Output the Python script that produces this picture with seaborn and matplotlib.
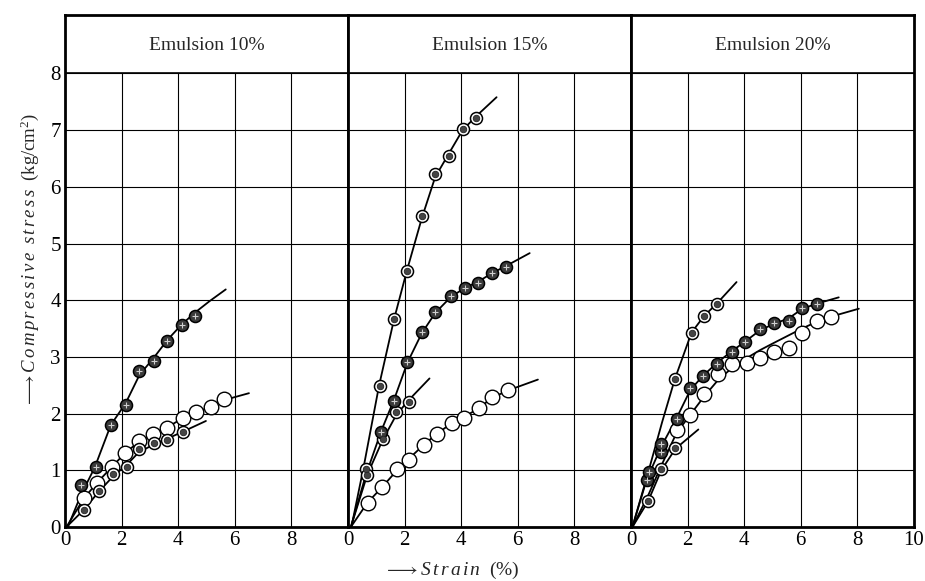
import matplotlib
matplotlib.use("Agg")
import matplotlib.pyplot as plt
import seaborn as sns
import pandas as pd

# ---------------- data ----------------
panel_titles = ["Emulsion 10%", "Emulsion 15%", "Emulsion 20%"]
x_ticks_left = [0, 2, 4, 6, 8]
x_ticks_last = [0, 2, 4, 6, 8, 10]
y_ticks = [0, 1, 2, 3, 4, 5, 6, 7, 8]

# Emulsion 10%
e10_dot_x = [0.55, 1.08, 1.62, 2.14, 2.63, 3.16, 3.62, 4.12, 4.59]
e10_dot_y = [0.74, 1.05, 1.80, 2.16, 2.75, 2.93, 3.28, 3.56, 3.73]
e10_open_x = [0.66, 1.13, 1.66, 2.13, 2.61, 3.12, 3.62, 4.16, 4.62, 5.16, 5.63]
e10_open_y = [0.52, 0.77, 1.06, 1.31, 1.51, 1.64, 1.74, 1.93, 2.02, 2.11, 2.25]
e10_ring_x = [0.66, 1.19, 1.71, 2.19, 2.61, 3.16, 3.62, 4.16]
e10_ring_y = [0.30, 0.63, 0.93, 1.05, 1.37, 1.49, 1.54, 1.68]

e10_dot_cx = [0.1, 0.55, 1.05, 1.62, 2.14, 2.63, 3.16, 3.62, 4.12, 4.59, 5.10, 5.68]
e10_dot_cy = [0.0, 0.55, 1.05, 1.80, 2.18, 2.68, 3.00, 3.30, 3.57, 3.78, 3.98, 4.19]
e10_open_cx = [0.05, 0.66, 1.13, 1.66, 2.13, 2.61, 3.12, 3.62, 4.16, 4.62, 5.16, 5.63, 6.50]
e10_open_cy = [0.0, 0.50, 0.78, 1.06, 1.31, 1.50, 1.64, 1.76, 1.92, 2.02, 2.12, 2.24, 2.36]
e10_ring_cx = [0.05, 0.66, 1.19, 1.71, 2.19, 2.61, 3.16, 3.62, 4.16, 4.98]
e10_ring_cy = [0.0, 0.30, 0.62, 0.90, 1.10, 1.32, 1.46, 1.56, 1.68, 1.87]

# Emulsion 15%
e15_steep_x = [0.64, 1.12, 1.63, 2.08, 2.61, 3.08, 3.58, 4.05, 4.54]
e15_steep_y = [1.03, 2.49, 3.67, 4.52, 5.49, 6.23, 6.55, 7.02, 7.21]
e15_dot_x = [1.18, 1.63, 2.10, 2.61, 3.09, 3.64, 4.14, 4.59, 5.10, 5.57]
e15_dot_y = [1.68, 2.22, 2.91, 3.44, 3.79, 4.08, 4.22, 4.31, 4.48, 4.58]
e15_ring_x = [0.68, 1.22, 1.71, 2.15]
e15_ring_y = [0.92, 1.56, 2.03, 2.21]
e15_open_x = [0.69, 1.20, 1.73, 2.14, 2.68, 3.13, 3.66, 4.11, 4.63, 5.10, 5.66]
e15_open_y = [0.43, 0.70, 1.02, 1.19, 1.44, 1.64, 1.84, 1.93, 2.09, 2.29, 2.41]

e15_steep_cx = [0.12, 0.55, 1.10, 1.63, 2.08, 2.61, 3.08, 3.58, 4.05, 4.54, 5.25]
e15_steep_cy = [0.0, 1.05, 2.50, 3.67, 4.52, 5.45, 6.17, 6.60, 7.00, 7.25, 7.58]
e15_dot_cx = [0.1, 0.62, 1.18, 1.63, 2.10, 2.61, 3.09, 3.64, 4.14, 4.61, 5.10, 5.57, 6.42]
e15_dot_cy = [0.0, 0.90, 1.70, 2.25, 2.90, 3.42, 3.78, 4.06, 4.22, 4.33, 4.48, 4.60, 4.83]
e15_ring_cx = [0.1, 0.68, 1.22, 1.71, 2.15, 2.88]
e15_ring_cy = [0.0, 0.92, 1.53, 1.98, 2.24, 2.62]
e15_open_cx = [0.1, 0.69, 1.20, 1.73, 2.14, 2.68, 3.13, 3.66, 4.11, 4.63, 5.10, 5.66, 6.71]
e15_open_cy = [0.0, 0.43, 0.70, 1.00, 1.20, 1.45, 1.64, 1.83, 1.94, 2.10, 2.28, 2.41, 2.60]

# Emulsion 20%
e20_steep_x = [1.55, 2.14, 2.58, 3.05]
e20_steep_y = [2.61, 3.43, 3.72, 3.93]
e20_dot_x = [0.55, 0.63, 1.07, 1.07, 1.61, 2.10, 2.55, 3.05, 3.56, 4.03, 4.56, 5.04, 5.57, 6.06, 6.57]
e20_dot_y = [0.83, 0.97, 1.33, 1.47, 1.90, 2.46, 2.66, 2.88, 3.09, 3.26, 3.50, 3.59, 3.64, 3.87, 3.94]
e20_open_x = [1.61, 2.08, 2.58, 3.09, 3.56, 4.09, 4.56, 5.06, 5.57, 6.04, 6.57, 7.07]
e20_open_y = [1.71, 1.97, 2.35, 2.69, 2.88, 2.89, 2.98, 3.09, 3.16, 3.42, 3.64, 3.71]
e20_ring_x = [0.60, 1.07, 1.57]
e20_ring_y = [0.45, 1.03, 1.39]

e20_steep_cx = [0.05, 0.60, 1.10, 1.55, 2.14, 2.58, 3.05, 3.73]
e20_steep_cy = [0.0, 0.95, 1.85, 2.61, 3.43, 3.72, 3.95, 4.32]
e20_dot_cx = [0.05, 0.55, 1.07, 1.61, 2.10, 2.55, 3.05, 3.56, 4.03, 4.56, 5.04, 5.57, 6.06, 6.57, 7.34]
e20_dot_cy = [0.0, 0.83, 1.42, 1.92, 2.42, 2.67, 2.90, 3.10, 3.27, 3.47, 3.58, 3.68, 3.85, 3.94, 4.05]
e20_open_cx = [0.05, 0.60, 1.07, 1.61, 2.08, 2.58, 3.09, 3.56, 4.09, 4.56, 5.06, 5.57, 6.04, 6.57, 7.07, 8.05]
e20_open_cy = [0.0, 0.55, 1.08, 1.66, 1.97, 2.30, 2.60, 2.80, 2.98, 3.12, 3.25, 3.38, 3.50, 3.62, 3.71, 3.85]
e20_ring_cx = [0.05, 0.60, 1.07, 1.57, 2.38]
e20_ring_cy = [0.0, 0.45, 1.00, 1.38, 1.72]

# ---------------- assemble ----------------
curves = [
    [(e10_dot_cx, e10_dot_cy), (e10_open_cx, e10_open_cy), (e10_ring_cx, e10_ring_cy)],
    [(e15_steep_cx, e15_steep_cy), (e15_dot_cx, e15_dot_cy), (e15_ring_cx, e15_ring_cy), (e15_open_cx, e15_open_cy)],
    [(e20_steep_cx, e20_steep_cy), (e20_dot_cx, e20_dot_cy), (e20_open_cx, e20_open_cy), (e20_ring_cx, e20_ring_cy)],
]
points = [
    {"dot": (e10_dot_x, e10_dot_y), "open": (e10_open_x, e10_open_y), "ring": (e10_ring_x, e10_ring_y)},
    {"ring": (e15_steep_x + e15_ring_x, e15_steep_y + e15_ring_y), "dot": (e15_dot_x, e15_dot_y), "open": (e15_open_x, e15_open_y)},
    {"ring": (e20_steep_x + e20_ring_x, e20_steep_y + e20_ring_y), "dot": (e20_dot_x, e20_dot_y), "open": (e20_open_x, e20_open_y)},
]

sns.set_theme(style="white")
plt.rcParams["font.family"] = ["Liberation Serif", "DejaVu Serif"]
plt.rcParams["mathtext.fontset"] = "custom"
plt.rcParams["mathtext.rm"] = "Liberation Serif"
plt.rcParams["mathtext.it"] = "Liberation Serif:italic"

fig = plt.figure(figsize=(9.25, 5.81), dpi=100)
left0 = 65 / 925
pw = 283 / 925
bottom = 1 - 527 / 581
ph = 512 / 581
YTOP = 9.03

for i in range(3):
    ax = fig.add_axes([left0 + i * pw, bottom, pw, ph])
    ax.set_xlim(0, 10)
    ax.set_ylim(0, YTOP)
    ax.set_axisbelow(True)
    ax.grid(True, color="black", lw=0.8)
    ax.set_yticks(y_ticks)
    ax.set_xticks(x_ticks_last if i == 2 else x_ticks_left)
    ax.axhspan(8, YTOP, facecolor="white", edgecolor="none", zorder=1)
    ax.axhline(8, color="black", lw=1.2, zorder=2)
    ax.text(5, 8.5, panel_titles[i], ha="center", va="center", fontsize=14)
    for s in ax.spines.values():
        s.set_color("black")
        s.set_linewidth(2.0)
    ax.tick_params(axis="both", length=0, labelsize=15, pad=3, colors="black")
    if i > 0:
        ax.set_yticklabels([])

    for cx, cy in curves[i]:
        sns.lineplot(x=cx, y=cy, ax=ax, color="black", lw=1.3, sort=False,
                     estimator=None, zorder=3)

    pts = points[i]
    ox, oy = pts["open"]
    sns.scatterplot(x=ox, y=oy, ax=ax, s=110, marker="o", facecolor="white",
                    edgecolor="black", linewidth=1.0, zorder=4)
    rx, ry = pts["ring"]
    sns.scatterplot(x=rx, y=ry, ax=ax, s=75, marker="o", facecolor="white",
                    edgecolor="black", linewidth=1.1, zorder=5)
    sns.scatterplot(x=rx, y=ry, ax=ax, s=22, marker="o", facecolor="#444444",
                    edgecolor="#222222", linewidth=0.6, zorder=6)
    dx, dy = pts["dot"]
    sns.scatterplot(x=dx, y=dy, ax=ax, s=75, marker="o", facecolor="#3a3a3a",
                    edgecolor="black", linewidth=1.1, zorder=5)
    sns.scatterplot(x=dx, y=dy, ax=ax, s=14, marker="+", color="#cfcfcf",
                    linewidth=0.8, zorder=6)
    ax.set_xlabel("")
    ax.set_ylabel("")

fig.text(30 / 925, 1 - 260 / 581,
         r"$\longrightarrow\mathit{C\,o\,m\,p\,r\,e\,s\,s\,i\,v\,e\ \ s\,t\,r\,e\,s\,s}\ \ \mathrm{(kg/cm^2)}$",
         rotation=90, ha="center", va="center", fontsize=13.5)
fig.text(452 / 925, 1 - 570 / 581,
         r"$\longrightarrow\mathit{S\,t\,r\,a\,i\,n\ \ (\%)}$",
         ha="center", va="center", fontsize=14)

fig.savefig("out.png", dpi=100, facecolor="white")
